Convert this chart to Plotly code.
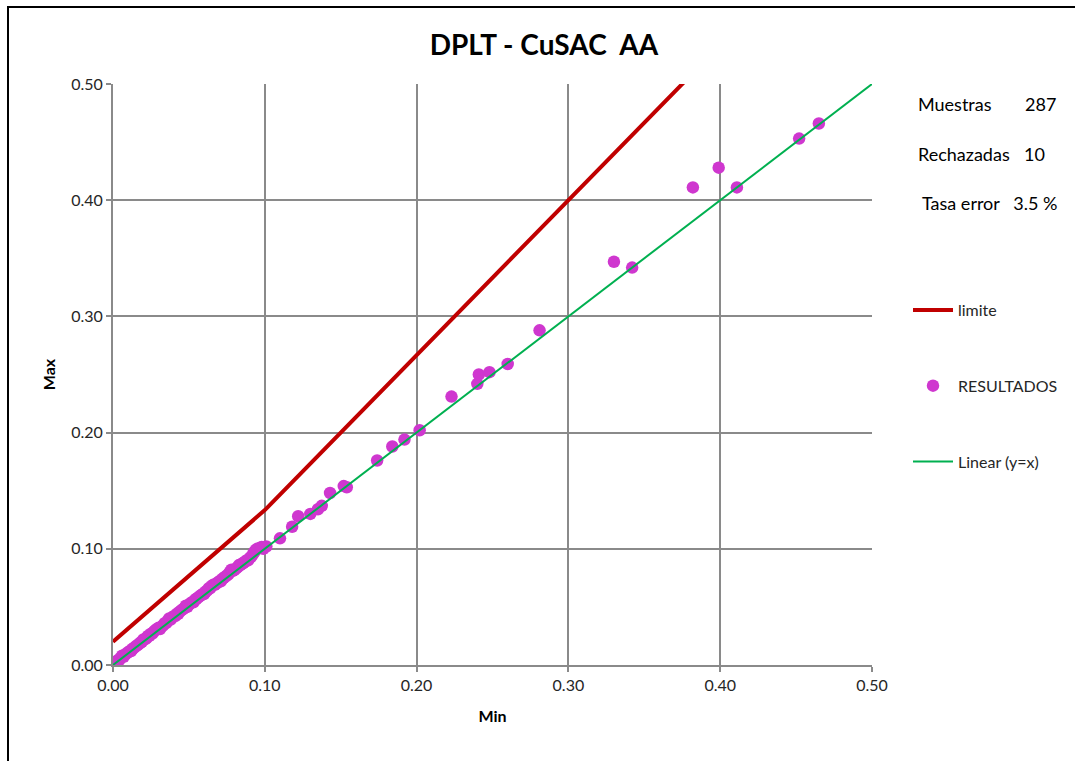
import plotly.graph_objects as go

# --- data ---
min_vals = [0.000, 0.001, 0.002, 0.003, 0.004, 0.005, 0.006, 0.007, 0.008, 0.009,
            0.010, 0.011, 0.012, 0.013, 0.014, 0.015, 0.016, 0.017, 0.018, 0.019,
            0.020, 0.021, 0.022, 0.023, 0.024, 0.025, 0.026, 0.027, 0.028, 0.029,
            0.030, 0.031, 0.032, 0.033, 0.034, 0.035, 0.036, 0.037, 0.038, 0.039,
            0.040, 0.041, 0.042, 0.043, 0.044, 0.045, 0.046, 0.047, 0.048, 0.049,
            0.050, 0.051, 0.052, 0.053, 0.054, 0.055, 0.056, 0.057, 0.058, 0.059,
            0.060, 0.061, 0.062, 0.063, 0.064, 0.065, 0.066, 0.067, 0.068, 0.069,
            0.070, 0.071, 0.072, 0.073, 0.074, 0.075, 0.076, 0.077, 0.078, 0.079,
            0.080, 0.081, 0.082, 0.083, 0.084, 0.085, 0.086, 0.087, 0.088, 0.089,
            0.090, 0.091, 0.092, 0.093, 0.094, 0.095, 0.097, 0.099,
            0.101, 0.098, 0.110, 0.118, 0.122, 0.130, 0.135, 0.1375, 0.143, 0.152,
            0.154, 0.174, 0.184, 0.192, 0.202, 0.223, 0.240, 0.241, 0.248, 0.260,
            0.281, 0.330, 0.342, 0.382, 0.399, 0.411, 0.452, 0.465]
max_vals = [0.000, 0.000, 0.002, 0.004, 0.004, 0.006, 0.008, 0.007, 0.009, 0.010,
            0.011, 0.012, 0.012, 0.014, 0.015, 0.016, 0.017, 0.018, 0.019, 0.020,
            0.022, 0.022, 0.023, 0.025, 0.025, 0.027, 0.027, 0.029, 0.030, 0.031,
            0.032, 0.031, 0.033, 0.034, 0.036, 0.036, 0.038, 0.040, 0.039, 0.041,
            0.042, 0.042, 0.044, 0.044, 0.046, 0.047, 0.048, 0.049, 0.051, 0.050,
            0.052, 0.053, 0.054, 0.054, 0.056, 0.057, 0.058, 0.059, 0.060, 0.061,
            0.061, 0.063, 0.064, 0.066, 0.066, 0.068, 0.069, 0.069, 0.070, 0.071,
            0.072, 0.072, 0.074, 0.075, 0.076, 0.077, 0.078, 0.080, 0.082, 0.081,
            0.082, 0.083, 0.084, 0.086, 0.086, 0.087, 0.088, 0.089, 0.090, 0.090,
            0.092, 0.093, 0.095, 0.097, 0.099, 0.100, 0.101, 0.100,
            0.102, 0.1015, 0.109, 0.119, 0.128, 0.130, 0.134, 0.137, 0.148, 0.154,
            0.153, 0.176, 0.188, 0.194, 0.202, 0.231, 0.242, 0.250, 0.252, 0.259,
            0.288, 0.347, 0.342, 0.411, 0.428, 0.411, 0.453, 0.466]

limit_x = [0.0, 0.1, 0.5]
limit_y = [0.02, 0.1333, 0.6667]

linear_x = [0.0, 0.5]
linear_y = [0.0, 0.5]

tick_vals = [0.0, 0.1, 0.2, 0.3, 0.4, 0.5]
tick_text = ["0.00", "0.10", "0.20", "0.30", "0.40", "0.50"]

title_text = "DPLT - CuSAC  AA"
stat_labels = ["Muestras", "Rechazadas"]
stat_values = ["287", "10"]
tasa_text = "Tasa error   3.5 %"

FONT = "Lato"
GRID = "#8a8a8a"

fig = go.Figure()
fig.add_trace(go.Scatter(x=limit_x, y=limit_y, mode="lines", name="limite",
                         legendgroup="a",
                         line=dict(color="#C00000", width=4)))
fig.add_trace(go.Scatter(x=min_vals, y=max_vals, mode="markers", name="RESULTADOS",
                         legendgroup="b",
                         marker=dict(color="#CF37CF", size=12.5, line=dict(width=0))))
fig.add_trace(go.Scatter(x=linear_x, y=linear_y, mode="lines", name="Linear (y=x)",
                         legendgroup="c",
                         line=dict(color="#00B050", width=2)))

axis_common = dict(range=[0, 0.5], tickvals=tick_vals, ticktext=tick_text,
                   showgrid=True, gridcolor=GRID, gridwidth=2,
                   zeroline=False, showline=True, linecolor=GRID, linewidth=2,
                   ticks="outside", ticklen=5, tickcolor=GRID, tickwidth=2,
                   tickfont=dict(family=FONT, size=16, color="#262626"))

fig.update_xaxes(**axis_common,
                 title=dict(text="<b>Min</b>", font=dict(family=FONT, size=16, color="#000"),
                            standoff=18))
fig.update_yaxes(**axis_common,
                 title=dict(text="<b>Max</b>", font=dict(family=FONT, size=16, color="#000"),
                            standoff=12))

annotations = []
label_y = [104, 154]
value_right = [1058, 1047]
for lab, val, ypx, xr in zip(stat_labels, stat_values, label_y, value_right):
    annotations.append(dict(text=lab, xref="paper", yref="paper",
                            x=(916 - 113) / 759, y=(665 - ypx) / 581,
                            xanchor="left", yanchor="middle", showarrow=False,
                            font=dict(family=FONT, size=18, color="#000")))
    annotations.append(dict(text=val, xref="paper", yref="paper",
                            x=(xr - 113) / 759, y=(665 - ypx) / 581,
                            xanchor="right", yanchor="middle", showarrow=False,
                            font=dict(family=FONT, size=18, color="#000")))
annotations.append(dict(text=tasa_text, xref="paper", yref="paper",
                        x=(920 - 113) / 759, y=(665 - 203) / 581,
                        xanchor="left", yanchor="middle", showarrow=False,
                        font=dict(family=FONT, size=18, color="#000")))

fig.update_layout(
    width=1075, height=761,
    margin=dict(l=113, r=203, t=84, b=96),
    paper_bgcolor="white", plot_bgcolor="white",
    title=dict(text="<b>" + title_text + "</b>", x=0.506, xanchor="center",
               y=1 - 45 / 761, yanchor="middle",
               font=dict(family=FONT, size=28, color="#000")),
    showlegend=True,
    legend=dict(x=(908 - 113) / 759, xanchor="left",
                y=(665 - 293) / 581, yanchor="top",
                tracegroupgap=52, itemwidth=40, bgcolor="rgba(0,0,0,0)",
                font=dict(family=FONT, size=16, color="#262626")),
    annotations=annotations,
    shapes=[dict(type="rect", xref="paper", yref="paper",
                 x0=(8 - 113) / 759, x1=(1085 - 113) / 759,
                 y0=(665 - 775) / 581, y1=(665 - 7) / 581,
                 line=dict(color="#000", width=2), fillcolor="rgba(0,0,0,0)",
                 layer="above")],
)

fig.write_html("out.html", config={"displayModeBar": False},
               post_script="document.body.style.margin='0';document.body.style.overflow='hidden';window.dispatchEvent(new Event('resize'));")
